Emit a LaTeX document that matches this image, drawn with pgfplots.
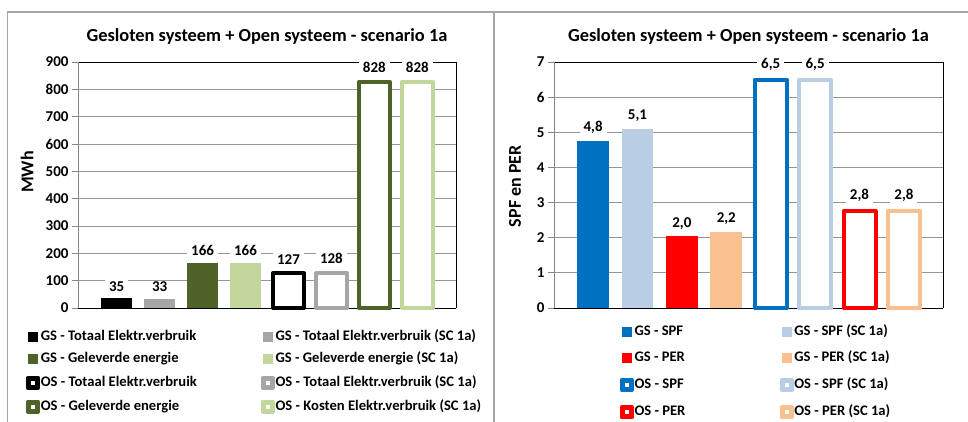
\documentclass[border=0pt]{standalone}
\usepackage{fontspec}
\setmainfont{Carlito}
\usepackage{pgfplots}
\pgfplotsset{compat=1.18}
\definecolor{cblack}{HTML}{000000}
\definecolor{cgray}{HTML}{A6A6A6}
\definecolor{cdgreen}{HTML}{4F6228}
\definecolor{clgreen}{HTML}{C3D69B}
\definecolor{cblue}{HTML}{0070C0}
\definecolor{clblue}{HTML}{B9CDE5}
\definecolor{cred}{HTML}{FF0000}
\definecolor{cpeach}{HTML}{FAC090}
\definecolor{framegray}{HTML}{A6A6A6}
\definecolor{gridgray}{HTML}{969696}
\definecolor{axisgray}{HTML}{868686}
\pgfplotsset{
  fb/.style={fill=#1, draw=none,
    legend image code/.code={\fill[#1] (0pt,-5pt) rectangle (10pt,5pt);}},
  ob/.style={fill=white, draw=#1, line width=4pt, line join=round,
    legend image code/.code={\path (0pt,-5pt) rectangle (10pt,5pt);
      \draw[#1, fill=white, line width=3pt, line join=round] (1.5pt,-3.5pt) rectangle (8.5pt,3.5pt);}},
  mybase/.style={
    scale only axis, height=246pt,
    ybar, bar width=0.72, bar shift=0pt,
    xtick=\empty, ymin=0, enlargelimits=false, clip=false,
    axis x line*=box, axis y line*=left,
    x axis line style={black, line width=0.9pt},
    y axis line style={axisgray, line width=0.9pt},
    ymajorgrids, major grid style={gridgray, line width=0.8pt},
    tick align=outside, major tick length=6pt,
    ytick style={axisgray, line width=0.8pt},
    /pgf/number format/assume math mode=true,
    every tick label/.append style={font=\bfseries\fontsize{15}{18}\selectfont},
    title style={anchor=center, font=\bfseries\fontsize{18.4}{22}\selectfont},
    ylabel style={anchor=center, font=\bfseries\fontsize{18}{22}\selectfont},
    nodes near coords,
    every node near coord/.append style={font=\bfseries\fontsize{15}{18}\selectfont,
      fill=white, inner xsep=4pt, inner ysep=1pt, anchor=south, yshift=6pt},
    legend columns=2, legend cell align=left,
    legend style={draw=none, fill=none, inner sep=0pt, outer sep=0pt,
      column sep=0pt, anchor=north west,
      font=\bfseries\fontsize{14.6}{17}\selectfont,
      nodes={inner sep=0pt, text height=10pt, text depth=3pt},
      /tikz/every odd column/.append style={column sep=0.8pt}},
  }
}
\begin{document}
\begin{tikzpicture}[x=1pt,y=1pt]
\useasboundingbox (0,0) rectangle (968,422);
\draw[framegray, line width=1.5pt] (7.5,0) -- (7.5,410) -- (968,410);
\draw[framegray, line width=1.5pt] (494,0) -- (494,410);

% Left chart
\begin{axis}[mybase,
  at={(78pt,114pt)}, anchor=south west, width=378pt,
  xmin=-0.9, xmax=7.9, ymax=900, ytick={0,100,...,900},
  extra x ticks={7.9}, extra x tick labels={},
  extra x tick style={grid=major, major grid style={black, line width=0.9pt}, major tick length=0pt},
  title={Gesloten systeem + Open systeem - scenario 1a},
  title style={at={(0.5,1.078)}},
  ylabel={MWh}, ylabel style={at={(axis description cs:-0.135,0.553)}},
  legend style={at={(-0.1375,-0.0902)}, row sep=9.8pt},
]
\addplot[fb=cblack] coordinates {(0,35)};
\addlegendentry{\makebox[220pt][l]{GS - Totaal Elektr.verbruik}}
\addplot[fb=cgray] coordinates {(1,33)};
\addlegendentry{GS - Totaal Elektr.verbruik (SC 1a)}
\addplot[fb=cdgreen] coordinates {(2,166)};
\addlegendentry{\makebox[220pt][l]{GS - Geleverde energie}}
\addplot[fb=clgreen] coordinates {(3,166)};
\addlegendentry{GS - Geleverde energie (SC 1a)}
\addplot[ob=cblack] coordinates {(4,127)};
\addlegendentry{\makebox[220pt][l]{OS - Totaal Elektr.verbruik}}
\addplot[ob=cgray] coordinates {(5,128)};
\addlegendentry{OS - Totaal Elektr.verbruik (SC 1a)}
\addplot[ob=cdgreen] coordinates {(6,828)};
\addlegendentry{\makebox[220pt][l]{OS - Geleverde energie}}
\addplot[ob=clgreen] coordinates {(7,828)};
\addlegendentry{OS - Kosten Elektr.verbruik (SC 1a)}
\end{axis}

% Right chart
\begin{axis}[mybase,
  at={(554pt,114pt)}, anchor=south west, width=389pt,
  xmin=-0.88, xmax=7.88, ymax=7, ytick={0,1,...,7},
  extra x ticks={7.88}, extra x tick labels={},
  extra x tick style={grid=major, major grid style={black, line width=0.9pt}, major tick length=0pt},
  title={Gesloten systeem + Open systeem - scenario 1a},
  title style={at={(0.5,1.078)}},
  ylabel={SPF en PER}, ylabel style={at={(axis description cs:-0.100,0.495)}},
  nodes near coords={\pgfmathprintnumber[fixed,fixed zerofill,precision=1,use comma,assume math mode=true]{\pgfplotspointmeta}},
  legend style={at={(0.1689,-0.0699)}, row sep=13.4pt},
]
\addplot[fb=cblue] coordinates {(0,4.76)};
\addlegendentry{\makebox[145pt][l]{GS - SPF}}
\addplot[fb=clblue] coordinates {(1,5.09)};
\addlegendentry{GS - SPF (SC 1a)}
\addplot[fb=cred] coordinates {(2,2.04)};
\addlegendentry{\makebox[145pt][l]{GS - PER}}
\addplot[fb=cpeach] coordinates {(3,2.17)};
\addlegendentry{GS - PER (SC 1a)}
\addplot[ob=cblue] coordinates {(4,6.5)};
\addlegendentry{\makebox[145pt][l]{OS - SPF}}
\addplot[ob=clblue] coordinates {(5,6.5)};
\addlegendentry{OS - SPF (SC 1a)}
\addplot[ob=cred] coordinates {(6,2.77)};
\addlegendentry{\makebox[145pt][l]{OS - PER}}
\addplot[ob=cpeach] coordinates {(7,2.77)};
\addlegendentry{OS - PER (SC 1a)}
\end{axis}
\end{tikzpicture}
\end{document}
